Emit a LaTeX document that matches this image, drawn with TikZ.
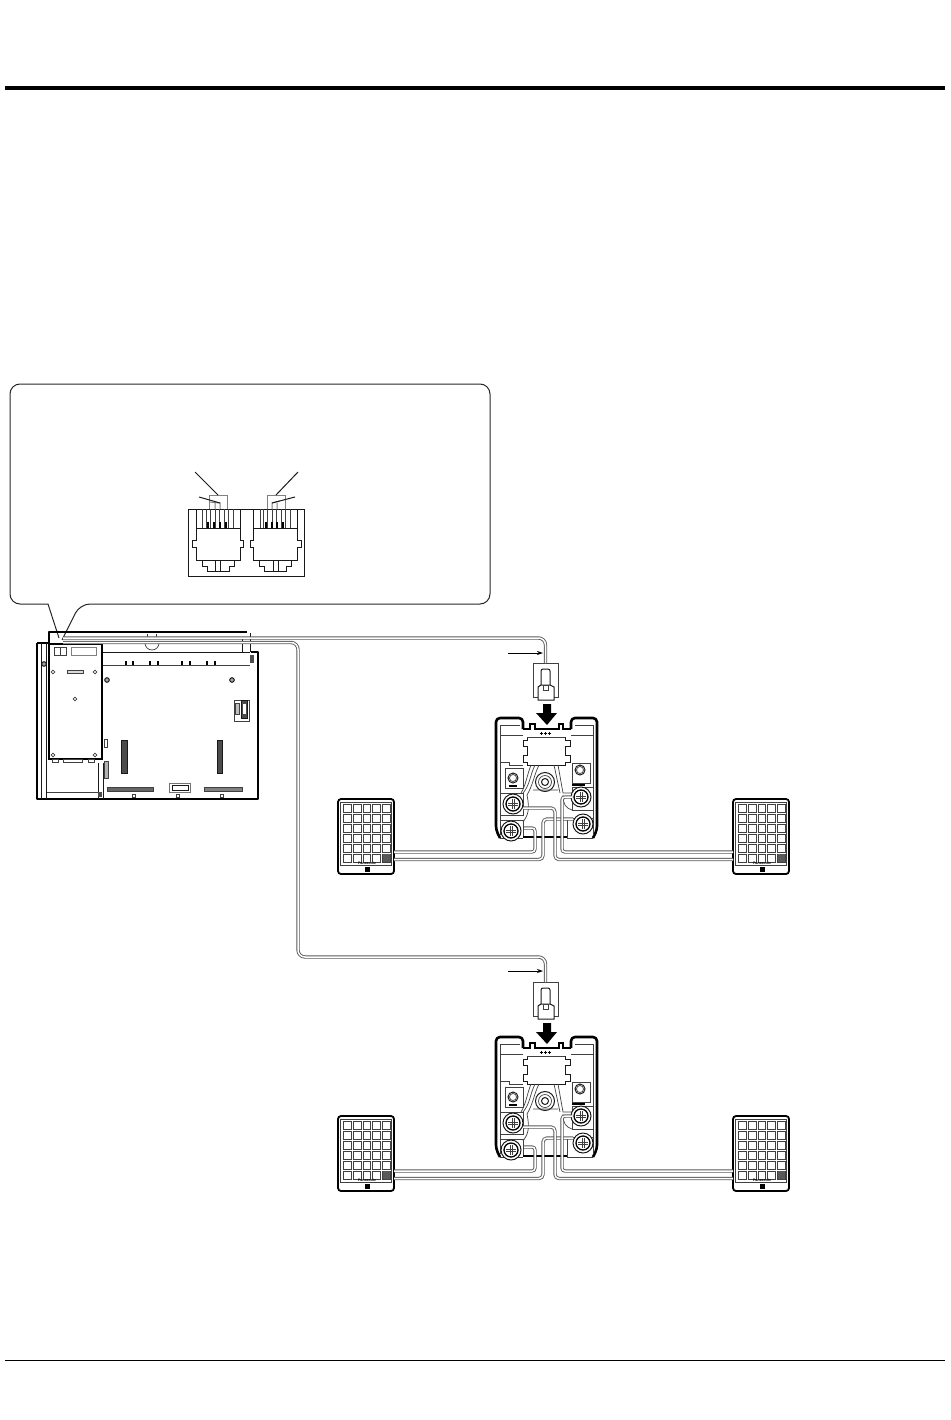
\documentclass[tikz,border=0pt]{standalone}
\usepackage{fontspec}
\setmainfont{Liberation Sans}
\usetikzlibrary{arrows.meta}
\tikzset{
	hair/.style={line width=0.7pt, color=black!75},
	fineline/.style={line width=1pt, color=black!90},
	heavy/.style={line width=2.6pt, color=black, line join=round},
	cablewire/.style={draw=black!65, line width=0.9pt, double=white, double distance=1.5pt, rounded corners=7pt},
	leaderline/.style={line width=0.8pt, -{Stealth[length=6pt,width=4pt]}},
}
% cross head screw of a terminal
\def\screwhead(#1,#2){
	\draw[fineline, fill=white] (#1,#2) circle (10);
	\draw[line width=1.3pt, fill=white] (#1,#2) circle (7);
	\draw[hair] (#1-5,#2-1) -- (#1+5,#2-1) (#1-5,#2+1) -- (#1+5,#2+1) (#1-1,#2-5) -- (#1-1,#2+5) (#1+1,#2-5) -- (#1+1,#2+5);
}
% small round mounting mark
\def\boardhole(#1,#2){
	\draw[hair, fill=white] (#1-1.8,#2) -- (#1,#2-1.8) -- (#1+1.8,#2) -- (#1,#2+1.8) -- cycle;
}
% hatched fixing screw
\def\boardscrew(#1,#2){
	\draw[fineline, fill=black!35] (#1,#2) circle (2.3);
}
% modular jack, seen from the front
\def\jackcut(#1){
	\begin{scope}[shift={(#1,0)}]
		\draw[fineline] (0,509) -- (0,528) -- (44,528) -- (44,509);
		\foreach \pinx in {6.7,10,14,19,23.3,28,32.3,37.3}
			\draw[hair] (\pinx,509) -- (\pinx,528);
		\foreach \pinx in {12,18,23.5,29.5}
			\draw[line width=2pt] (\pinx,522) -- (\pinx,528);
		\draw[fineline] (0,528) -- (0,540) -- (-3.5,540) -- (-3.5,547) -- (0,547) -- (0,560) -- (6,560) -- (6,566) -- (11,566) -- (11,571) -- (33,571) -- (33,566) -- (38,566) -- (38,560) -- (44,560) -- (44,547) -- (47.5,547) -- (47.5,540) -- (44,540) -- (44,528);
		\draw[fineline] (6,560) -- (38,560) (19.5,560) -- (19.5,571) (24.5,560) -- (24.5,571);
	\end{scope}
}
% key sheet with its speaker corner
\def\keypad(#1,#2){
	\begin{scope}[shift={(#1,#2)}]
		\draw[line width=1.8pt, rounded corners=3pt, fill=white] (0,0) rectangle (56,75);
		\draw[hair] (2.5,3) rectangle (53.5,66);
		\foreach \col in {0,...,4}
			\foreach \row in {0,...,5}
				\draw[hair, fill=white] (5.3+\col*9.8,5.2+\row*10) rectangle ++(7.8,7.8);
		\fill[black!65] (44.5,55.2) rectangle ++(7.8,7.8);
		\fill (26.5,68) rectangle (32,73);
		\node[inner sep=0pt, font=\bfseries\fontsize{3.6pt}{4pt}\selectfont] (#1logo#2) at (29,64.6) {Panasonic};
	\end{scope}
}
% wall unit with the plug above it, upper position
\def\wallunit{
	% plug
	\draw[hair] (533,663) -- (558,663) -- (558,697) -- (554,697) (533,663) -- (533,697) -- (538,697);
	\draw[fineline, rounded corners=2pt] (541,685) -- (541,669) -- (550,669) -- (550,685);
	\draw[fineline] (541,685) -- (538,687) -- (538,700) -- (554,700) -- (554,687) -- (550,685) -- (541,685);
	\draw[hair] (543,685) rectangle (548,690);
	% push arrow
	\fill (543,704) -- (551,704) -- (551,713) -- (557,713) -- (547,725) -- (536,713) -- (543,713) -- cycle;
	% housing
	\draw[heavy, rounded corners=4pt] (500,838) -- (496,830) -- (496,718) -- (523,718) -- (523,729);
	\draw[heavy, rounded corners=4pt] (571,729) -- (571,718) -- (597,718) -- (597,830) -- (593,838);
	\draw[line width=1.4pt] (523,729) -- (530,729) -- (530,724) -- (535,724) -- (535,729) -- (559,729) -- (559,724) -- (563,724) -- (563,729) -- (571,729);
	\draw[line width=2pt] (537,837) -- (550,837);
	\draw[hair] (520,725) -- (500,725) -- (500,835) (575,725) -- (593,725) -- (593,835);
	\draw[hair] (500,735) -- (523,735) (571,735) -- (593,735);
	% centre block
	\draw[fineline] (527,737) -- (527,740) -- (523,740) -- (523,746) -- (527,746) -- (527,755) -- (523,755) -- (523,762) -- (527,762) -- (527,765) -- (565,765) -- (565,762) -- (570,762) -- (570,755) -- (565,755) -- (565,746) -- (570,746) -- (570,740) -- (565,740) -- (565,737);
	\draw[hair] (527,737) -- (565,737);
	\foreach \starx in {541,545,549}
		\draw[line width=0.6pt] (\starx-1.5,733) -- (\starx+1.5,733) (\starx,731.5) -- (\starx,734.5);
	% terminal blocks
	\draw[hair] (500,762) -- (509,762) -- (509,765) -- (523,765) (505,768) rectangle (523,788);
	\draw[fineline] (513,778) circle (5);
	\draw[hair] (513,778) circle (3.5);
	\draw[line width=1.5pt] (509,786) -- (517,786);
	\draw[hair] (501,793) -- (523,793) -- (523,815) -- (501,815);
	\draw[hair] (500,820) -- (523,820) -- (523,838) (500,838) -- (523,838);
	\draw[hair] (572,763) rectangle (590,783);
	\draw[fineline] (580,770) circle (5);
	\draw[hair] (580,770) circle (3.5);
	\draw[line width=1.5pt] (572,785) -- (585,785);
	\draw[hair] (593,787) -- (572,787) -- (572,810) -- (593,810);
	\draw[hair] (593,818) -- (567,818) -- (567,838) -- (593,838);
	\screwhead(513,804)
	\screwhead(511,831)
	\screwhead(581,797)
	\screwhead(583,824)
	% boss and lead wires
	\draw[fineline] (545,782) circle (9.5);
	\draw[hair] (545,782) circle (6.5);
	\draw[fineline] (545,782) circle (3.5);
	\draw[hair] (533,790) -- (558,790) (558,765) -- (563,793) -- (572,793) (554,765) -- (560,793);
	\draw[hair] (535,765) .. controls (530,775) and (530,785) .. (523,793);
	\draw[hair] (531,765) .. controls (527,775) and (526,785) .. (521,793);
	\draw[hair] (539,765) .. controls (534,775) and (533,785) .. (527,795);
	\draw[hair] (527,795) .. controls (530,810) and (528,815) .. (523,822);
	\draw[hair] (563,795) .. controls (563,805) and (566,808) .. (572,810);
	\draw[line width=2pt] (523,837) -- (537,837) (550,837) -- (567,837);
}
\begin{document}
\begin{tikzpicture}[x=1pt, y=-1pt]
	\useasboundingbox (0,0) rectangle (950,1420);
	
	%%%%% page rules %%%%%
	\draw[line width=4pt] (5,88.5) -- (945,88.5);
	\draw[line width=1pt] (5,1360) -- (945,1360);
	
	%%%%% call-out %%%%%
	\draw[line width=1pt, color=black!85] (59,638) -- (48,604) [rounded corners=10pt] -- (10,604) -- (10,384) -- (490,384) -- (490,604) -- (80,604) [sharp corners] -- (62,640);
	
	\draw[fineline] (188,509) rectangle (304,576);
	\jackcut(196)
	\jackcut(253.5)
	
	\draw[line width=1pt, color=black!50] (209,509) -- (209,495) -- (227,495) -- (227,509);
	\draw[line width=1pt, color=black!50] (209,502) -- (220,503) -- (220,509) (215,502) -- (215,509);
	\draw[line width=1pt, color=black!50] (267,509) -- (267,495) -- (285,495) -- (285,509);
	\draw[line width=1pt, color=black!50] (272,509) -- (272,503) -- (280,501) (277,503) -- (277,509);
	\coordinate (leftpair) at (218,495);
	\coordinate (leftpin) at (220,503);
	\coordinate (rightpair) at (276,495);
	\coordinate (rightpin) at (272,503);
	\draw[fineline] (195,472) -- (leftpair);
	\draw[fineline] (199,497) -- (leftpin);
	\draw[fineline] (298,472) -- (rightpair);
	\draw[fineline] (295,497) -- (rightpin);
	
	%%%%% control unit %%%%%
	\draw[heavy] (37,643) -- (37,799) -- (258,799) -- (258,652) -- (251,652);
	\draw[heavy] (37,643) -- (49,643) -- (49,632) -- (247,632);
	\draw[fineline] (41,643) -- (41,799) (46,643) -- (46,799);
	\draw[fineline] (242,637) -- (242,652) (250,633) -- (250,652);
	\draw[fineline] (102,652) -- (250,652);
	\draw[hair] (102,665) -- (250,665);
	\foreach \tickx in {126,133,150,158,182,190,207,215}
		\draw[line width=1.4pt] (\tickx,661) -- (\tickx,665);
	\draw[hair] (145,643) arc (180:0:7);
	\draw[hair] (147,634) -- (147,638) (156,634) -- (156,638);
	
	\draw[line width=1.6pt, fill=white] (49,644) rectangle (102,759);
	\draw[hair] (54,647) rectangle (66,655);
	\draw[hair] (60,647) -- (60,655);
	\draw[color=black!50, line width=1pt] (71,647) rectangle (96,655);
	\draw[hair, fill=black!15] (67,670) rectangle (83,673);
	\boardhole(53,672)
	\boardhole(95,672)
	\boardhole(75,699)
	\boardhole(53,755)
	\boardhole(95,755)
	\draw[hair] (52,759) rectangle (58,762) (63,759) rectangle (82,762) (88,759) rectangle (94,762);
	
	\draw[hair] (47,792) -- (98,792);
	\draw[fineline] (98,763) -- (98,799) (103,763) -- (103,799);
	\fill[black!70] (98,792) rectangle (102,797);
	\fill[black!70] (250,655) rectangle (254,663);
	\boardscrew(44,664)
	\boardscrew(107,680)
	\boardscrew(232,680)
	
	\draw[fineline, fill=black!70] (121,740) rectangle (127,773);
	\draw[fineline, fill=black!70] (217.5,740) rectangle (222,773);
	\draw[hair] (104,739) rectangle (107.5,747);
	\draw[hair, fill=black!30] (104,761) rectangle (108,778);
	\draw[hair, fill=black!60] (107,787) rectangle (153,791);
	\draw[hair, fill=black!50] (204,787) rectangle (242,791);
	\draw[color=black!55, line width=1pt] (169.5,783) rectangle (190.5,792);
	\draw[fineline] (172,785) rectangle (188,790);
	\draw[hair] (132,794) rectangle (135,797) (176,794) rectangle (179,797) (220,794) rectangle (223,797);
	\draw[hair] (234,700) rectangle (249,721);
	\draw[hair, fill=black!25] (235,703) rectangle (239,714);
	\draw[fineline, fill=black!70] (241,700) rectangle (247,718);
	\fill[white] (242.5,704) rectangle (245.5,714);
	
	%%%%% wall units %%%%%
	\wallunit
	\begin{scope}[shift={(0,319)}]
		\wallunit
	\end{scope}
	
	%%%%% key sheets %%%%%
	\keypad(338,799)
	\keypad(733,799)
	\keypad(338,1116)
	\keypad(733,1116)
	
	%%%%% cables %%%%%
	\coordinate (unitoutA) at (63,638);
	\coordinate (unitoutB) at (63,642.5);
	\coordinate (plugA) at (545.5,663);
	\coordinate (plugB) at (545.5,982);
	\draw[cablewire] (unitoutA) -- (545.5,638) -- (plugA);
	\draw[cablewire] (unitoutB) -- (298,642.5) -- (298,957) -- (545.5,957) -- (plugB);
	
	\coordinate (tagA) at (508,653);
	\coordinate (tagB) at (508,971);
	\draw[leaderline] (tagA) -- (543,653);
	\draw[leaderline] (tagB) -- (543,971);
	
	% upper unit to its key sheets
	\draw[cablewire, rounded corners=3pt] (394,852) -- (535,852) -- (535,828) -- (524,828);
	\draw[cablewire, rounded corners=4pt] (394,859.5) -- (543,859.5) -- (543,819) -- (573,819);
	\draw[cablewire, rounded corners=3pt] (733,852) -- (562,852) -- (562,797) -- (572,797);
	\draw[cablewire, rounded corners=4pt] (733,859.5) -- (555,859.5) -- (555,808) -- (523,808);
	
	% lower unit to its key sheets
	\draw[cablewire, rounded corners=3pt] (394,1171) -- (535,1171) -- (535,1147) -- (524,1147);
	\draw[cablewire, rounded corners=4pt] (394,1178.5) -- (543,1178.5) -- (543,1138) -- (573,1138);
	\draw[cablewire, rounded corners=3pt] (733,1171) -- (562,1171) -- (562,1116) -- (572,1116);
	\draw[cablewire, rounded corners=4pt] (733,1178.5) -- (555,1178.5) -- (555,1127) -- (523,1127);
\end{tikzpicture}
\end{document}
